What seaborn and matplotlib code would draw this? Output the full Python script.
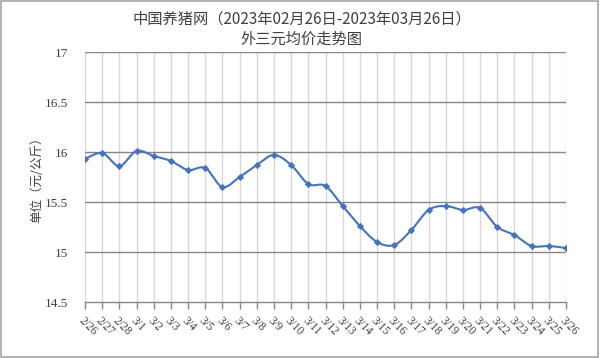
import numpy as np
import pandas as pd
import matplotlib
matplotlib.use("Agg")
import matplotlib.pyplot as plt
import seaborn as sns

dates = ["2/26", "2/27", "2/28", "3/1", "3/2", "3/3", "3/4", "3/5", "3/6", "3/7",
         "3/8", "3/9", "3/10", "3/11", "3/12", "3/13", "3/14", "3/15", "3/16",
         "3/17", "3/18", "3/19", "3/20", "3/21", "3/22", "3/23", "3/24", "3/25", "3/26"]
prices = [15.93, 15.99, 15.86, 16.01, 15.96, 15.91, 15.82, 15.84, 15.65, 15.75,
          15.87, 15.97, 15.87, 15.68, 15.66, 15.46, 15.26, 15.10, 15.07,
          15.22, 15.42, 15.46, 15.42, 15.44, 15.25, 15.17, 15.06, 15.06, 15.04]
yticks = [14.5, 15, 15.5, 16, 16.5, 17]
ytick_labels = ["14.5", "15", "15.5", "16", "16.5", "17"]
title_text = "中国养猪网（2023年02月26日-2023年03月26日）\n外三元均价走势图"
ylabel_text = "单位（元/公斤）"

sns.set_theme(style="white")
plt.rcParams["font.family"] = ["Noto Sans CJK SC", "DejaVu Sans"]

color = "#4473BE"
text_color = "#404040"

x = np.arange(len(prices), dtype=float)
y = np.array(prices, dtype=float)

# Catmull-Rom smoothing (like Excel smoothed line)
xs, ys = [], []
n = len(x)
for i in range(n - 1):
    p0 = np.array([x[max(i - 1, 0)], y[max(i - 1, 0)]])
    p1 = np.array([x[i], y[i]])
    p2 = np.array([x[i + 1], y[i + 1]])
    p3 = np.array([x[min(i + 2, n - 1)], y[min(i + 2, n - 1)]])
    c1 = p1 + (p2 - p0) / 6.0
    c2 = p2 - (p3 - p1) / 6.0
    t = np.linspace(0, 1, 20, endpoint=(i == n - 2))
    b = ((1 - t) ** 3)[:, None] * p1 + (3 * (1 - t) ** 2 * t)[:, None] * c1 \
        + (3 * (1 - t) * t ** 2)[:, None] * c2 + (t ** 3)[:, None] * p2
    xs.extend(b[:, 0]); ys.extend(b[:, 1])
smooth = pd.DataFrame({"x": xs, "y": ys})
pts = pd.DataFrame({"x": x, "y": y})

fig = plt.figure(figsize=(6.0, 3.58), dpi=100)
ax = fig.add_axes([85 / 600, 1 - 302 / 358, (566 - 85) / 600, (302 - 52) / 358])

# grid
for xi in x:
    ax.axvline(xi, color="#D9D9D9", lw=1.0, zorder=0)
for yt in yticks[1:]:
    ax.axhline(yt, color="#868686", lw=1.0, zorder=1)

sns.lineplot(data=smooth, x="x", y="y", ax=ax, color=color, lw=1.5,
             sort=False, estimator=None, zorder=3)
sns.scatterplot(data=pts, x="x", y="y", ax=ax, color=color, marker="D",
                s=14, edgecolor=color, linewidth=0, zorder=4)

ax.set_xlim(0, len(prices) - 1)
ax.set_ylim(14.5, 17)
ax.set_yticks(yticks)
ax.set_yticklabels(ytick_labels, fontfamily=["Liberation Serif", "DejaVu Sans"],
                   fontsize=9.5, color=text_color)
ax.set_xticks(x)
ax.set_xticklabels(dates, rotation=-45, ha="left", va="top", rotation_mode="anchor",
                   fontfamily=["Liberation Serif", "DejaVu Sans"], fontsize=8.5,
                   color=text_color)
ax.tick_params(axis="x", length=5, width=1, color="#868686", direction="out",
               pad=4, bottom=True)
ax.tick_params(axis="y", length=0, pad=12)
ax.set_xlabel("")
ax.set_ylabel(ylabel_text, fontsize=9, color=text_color, labelpad=1)
for s in ["top", "right", "left"]:
    ax.spines[s].set_visible(False)
ax.spines["bottom"].set_color("#868686")
ax.spines["bottom"].set_linewidth(1.0)

fig.text(0.503, 1 - 29 / 358, title_text, ha="center", va="center",
         fontsize=11, color=text_color, linespacing=1.25)

# outer border
fig.patches.append(plt.Rectangle((0.002, 0.003), 0.995, 0.994, transform=fig.transFigure,
                                 fill=False, edgecolor="#A6A6A6", lw=1.2))

fig.savefig("out.png", dpi=100)
